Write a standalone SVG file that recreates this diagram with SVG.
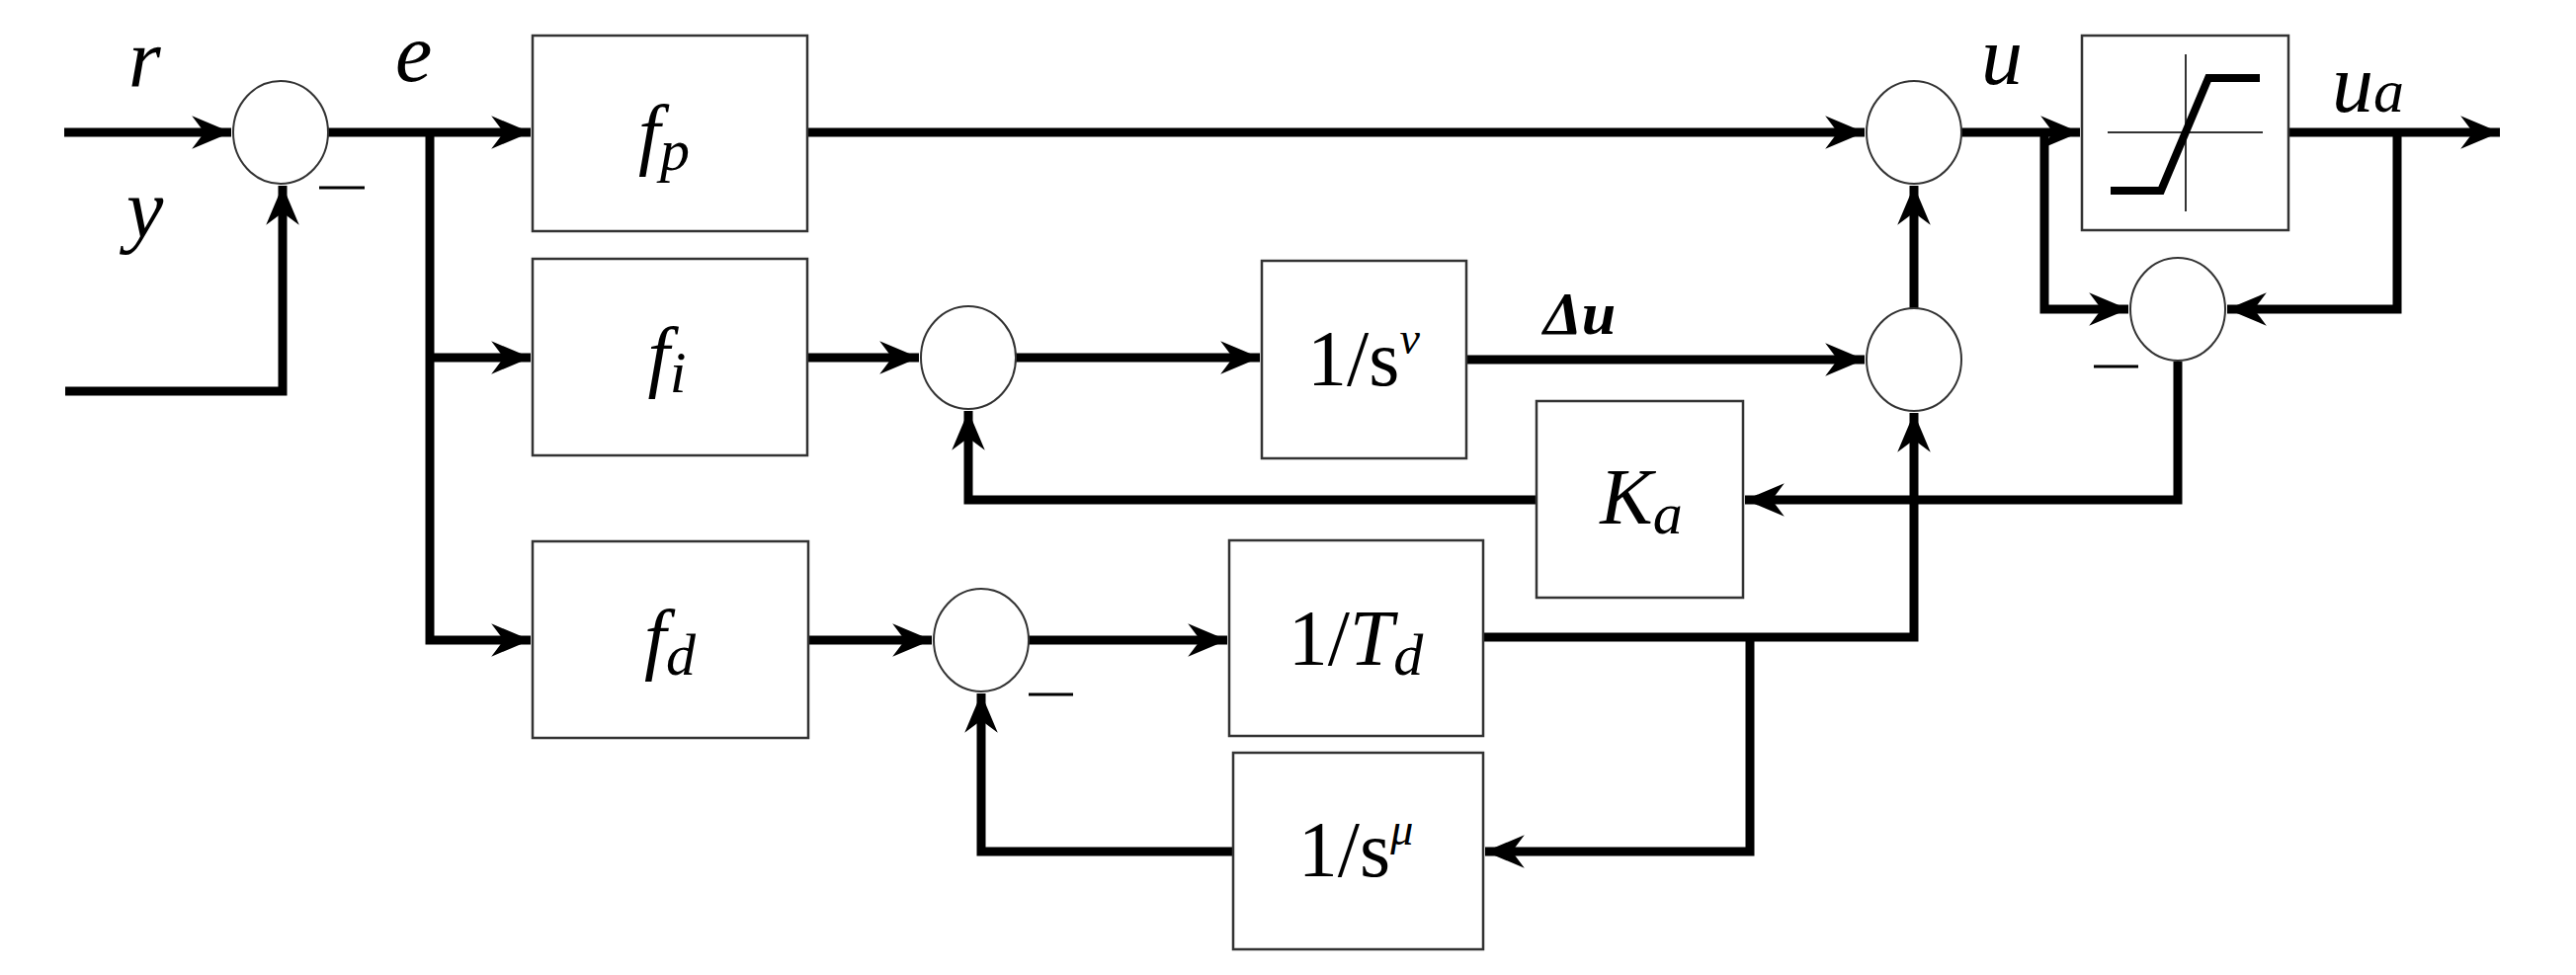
<svg xmlns="http://www.w3.org/2000/svg" width="2607" height="987" viewBox="0 0 2607 987" font-family="'Liberation Serif','Times New Roman','DejaVu Serif',serif">
<style>
.b{fill:#fff;stroke:#333;stroke-width:2.5}
.s{fill:#fff;stroke:#333;stroke-width:2}
.w{fill:none;stroke:#000;stroke-width:9;stroke-linejoin:miter}
.a{marker-end:url(#ar)}
text{font-family:'Liberation Serif','Times New Roman','DejaVu Serif',serif;fill:#000}
.t{font-size:80px;text-anchor:middle}
.v{font-style:italic;font-size:84px}
</style>
<defs>
<marker id="ar" markerUnits="userSpaceOnUse" markerWidth="44" markerHeight="44" viewBox="-40 -18 42 36" refX="0" refY="0" orient="auto">
<path d="M0,0 L-38,-16 L-26,0 L-38,16 Z" fill="#000"/>
</marker>
</defs>
<g id="connectors">
<path class="w a" d="M65,134 H234"/>
<path class="w a" d="M66,396 H286 V188"/>
<path class="w a" d="M332,134 H537"/>
<path class="w a" d="M435,134 V648 H537"/>
<path class="w a" d="M435,362 H537"/>
<path class="w a" d="M817,362 H930"/>
<path class="w a" d="M1028,362 H1275"/>
<path class="w a" d="M818,648 H943"/>
<path class="w a" d="M1041,648 H1242"/>
<path class="w a" d="M817,134 H1887"/>
<path class="w a" d="M1484,364 H1887"/>
<path class="w a" d="M1937,312 V188"/>
<path class="w a" d="M1501,645 H1937 V418"/>
<path class="w a" d="M1771,645 V862 H1503"/>
<path class="w a" d="M1248,862 H993 V702"/>
<path class="w a" d="M1985,134 H2105"/>
<path class="w a" d="M2069,134 V313 H2154"/>
<path class="w a" d="M2316,134 H2530"/>
<path class="w a" d="M2426,134 V313 H2254"/>
<path class="w a" d="M2204,366 V506 H1766"/>
<path class="w a" d="M1555,506 H980 V416"/>
</g>
<g id="sum1"><ellipse class="s" cx="284" cy="134" rx="48" ry="52"/><path d="M323,190 H369" stroke="#000" stroke-width="3"/></g>
<g id="sum2"><ellipse class="s" cx="980" cy="362" rx="48" ry="52"/></g>
<g id="sum3"><ellipse class="s" cx="993" cy="648" rx="48" ry="52"/><path d="M1041,703 H1086" stroke="#000" stroke-width="3"/></g>
<g id="sum4"><ellipse class="s" cx="1937" cy="134" rx="48" ry="52"/></g>
<g id="sum5"><ellipse class="s" cx="1937" cy="364" rx="48" ry="52"/></g>
<g id="sum6"><ellipse class="s" cx="2204" cy="313" rx="48" ry="52"/><path d="M2119,371 H2164" stroke="#000" stroke-width="3"/></g>
<g id="fp"><rect class="b" x="539" y="36" width="278" height="198"/><text x="672" y="162" class="t"><tspan font-style="italic">f</tspan><tspan font-style="italic" font-size="60" dy="10">p</tspan></text></g>
<g id="fi"><rect class="b" x="539" y="262" width="278" height="199"/><text x="675" y="387" class="t"><tspan font-style="italic">f</tspan><tspan font-style="italic" font-size="60" dy="10">i</tspan></text></g>
<g id="fd"><rect class="b" x="539" y="548" width="279" height="199"/><text x="678" y="673" class="t"><tspan font-style="italic">f</tspan><tspan font-style="italic" font-size="60" dy="10">d</tspan></text></g>
<g id="snu"><rect class="b" x="1277" y="264" width="207" height="200"/><text x="1380" y="390" class="t">1/s<tspan font-style="italic" font-size="46" dy="-32">ν</tspan></text></g>
<g id="Td"><rect class="b" x="1244" y="547" width="257" height="198"/><text x="1372" y="673" class="t">1/<tspan font-style="italic">T</tspan><tspan font-style="italic" font-size="60" dy="10">d</tspan></text></g>
<g id="smu"><rect class="b" x="1248" y="762" width="253" height="199"/><text x="1372" y="887" class="t">1/s<tspan font-style="italic" font-size="46" dy="-32">μ</tspan></text></g>
<g id="Ka"><rect class="b" x="1555" y="406" width="209" height="199"/><text x="1661" y="530" class="t"><tspan font-style="italic">K</tspan><tspan font-style="italic" font-size="60" dy="10">a</tspan></text></g>
<g id="sat"><rect class="b" x="2107" y="36" width="209" height="197"/>
<path d="M2133,134 H2290 M2212,55 V214" stroke="#333" stroke-width="2" fill="none"/>
<path d="M2136,193 H2187 L2235,79 H2287" stroke="#000" stroke-width="8" fill="none"/></g>
<g id="labels">
<text x="130" y="88" class="v">r</text>
<text x="128" y="240" class="v">y</text>
<text x="400" y="82" class="v">e</text>
<text x="2005" y="85" class="v">u</text>
<text x="2360" y="113" class="v">u<tspan font-size="62">a</tspan></text>
<text x="1562" y="338" font-size="62" font-style="italic" font-weight="bold">Δu</text>
</g>
</svg>
